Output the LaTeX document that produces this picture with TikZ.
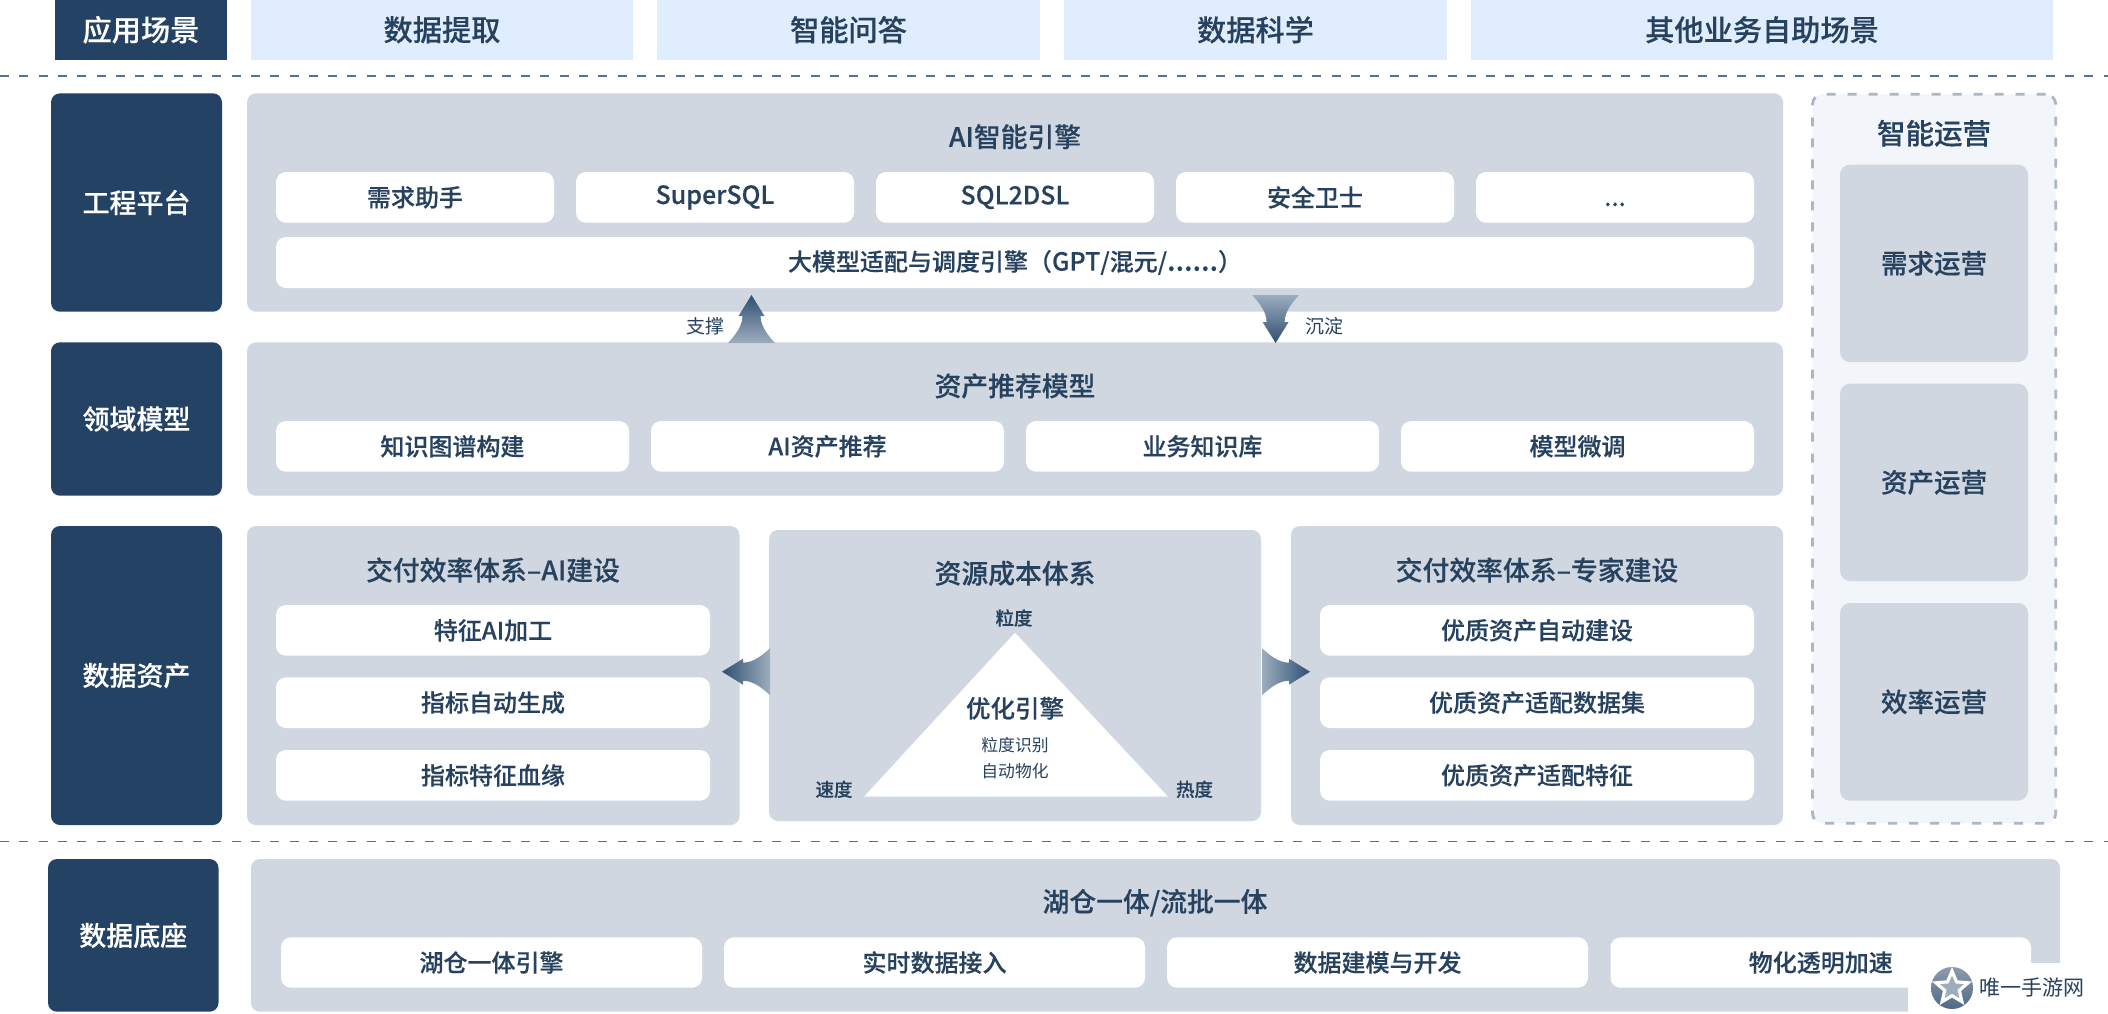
\documentclass[tikz,border=0pt]{standalone}
\usepackage{fontspec}
\usepackage{tikz}
\usetikzlibrary{calc,shapes.geometric}
\setmainfont{Noto Sans CJK SC}[BoldFont={Noto Sans CJK SC Medium},BoldFeatures={FakeBold=0.25}]
\definecolor{navy}{HTML}{234264}
\definecolor{panel}{HTML}{D0D7E0}
\definecolor{topblue}{HTML}{E0EDFE}
\definecolor{ink}{HTML}{27425F}
\definecolor{opsbg}{HTML}{F2F5F9}
\definecolor{opsline}{HTML}{AAB7C7}
\definecolor{rule}{HTML}{4F7298}
\definecolor{arrowdark}{HTML}{2F4F73}
\definecolor{arrowlight}{HTML}{9DADBE}
\newcommand{\lat}[1]{{\fontsize{25}{29}\selectfont #1}}
\tikzset{
  base/.style={inner sep=0pt,outer sep=0pt,align=center,text=ink},
  navybox/.style={base,fill=navy,rounded corners=9pt,text=white,font=\fontsize{27}{32}\selectfont\bfseries},
  panelbox/.style={base,fill=panel,rounded corners=9pt},
  whitebox/.style={base,fill=white,rounded corners=10pt,font=\fontsize{24}{29}\selectfont\bfseries},
  topbox/.style={base,fill=topblue,font=\fontsize{29.2}{34}\selectfont\bfseries},
  title/.style={base,font=\fontsize{26.8}{32}\selectfont\bfseries},
  opsbox/.style={base,fill=panel,rounded corners=10pt,font=\fontsize{26.5}{32}\selectfont\bfseries},
  small/.style={base,font=\fontsize{19}{22}\selectfont},
  smallb/.style={base,font=\fontsize{18.5}{22}\selectfont\bfseries},
  rulestyle/.style={draw=rule,line width=1.3pt,dash pattern=on 9pt off 10.3pt},
}
% name, x0, y0, x1, y1, style, text
\newcommand{\bx}[7]{\node[#6,minimum width={(#4-#2)*1pt},minimum height={(#5-#3)*1pt}] (#1) at ({(#2+#4)/2},{(#3+#5)/2}) {#7};}
\begin{document}
\begin{tikzpicture}[x=1pt,y=-1pt]
\useasboundingbox (0,0) rectangle (2108,1013);
\fill[white] (0,0) rectangle (2108,1013);

% application row
\bx{app}{55}{0}{227}{59.5}{navybox,rounded corners=0pt,font=\fontsize{29.2}{34}\selectfont\bfseries}{应用场景}
\bx{t1}{251}{0}{633}{59.5}{topbox}{数据提取}
\bx{t2}{657}{0}{1040}{59.5}{topbox}{智能问答}
\bx{t3}{1064}{0}{1447}{59.5}{topbox}{数据科学}
\bx{t4}{1471}{0}{2053}{59.5}{topbox}{其他业务自助场景}

\coordinate (ruleAl) at (0,76); \coordinate (ruleAr) at (2108,76);
\draw[rulestyle] (ruleAl) -- (ruleAr);

% engineering platform
\bx{eng}{51}{93.3}{222}{311.7}{navybox}{工程平台}
\bx{engP}{247}{93.3}{1783}{311.7}{panelbox}{}
\node[title] (engT) at (1015,136.7) {AI智能引擎};
\bx{e1}{276}{172}{554}{222.7}{whitebox}{需求助手}
\bx{e2}{576}{172}{854}{222.7}{whitebox}{\lat{SuperSQL}}
\bx{e3}{876}{172}{1154}{222.7}{whitebox}{\lat{SQL2DSL}}
\bx{e4}{1176}{172}{1454}{222.7}{whitebox}{安全卫士}
\bx{e5}{1476}{172}{1754}{222.7}{whitebox}{\vphantom{需}...}
\bx{e6}{276}{237}{1754}{288}{whitebox}{大模型适配与调度引擎（\lat{GPT}/混元/{\fontsize{28.5}{29}\selectfont ......}）}

% domain model
\bx{dom}{51}{342.3}{222}{495.7}{navybox}{领域模型}
\bx{domP}{247}{342.3}{1783}{495.7}{panelbox}{}
\node[title] (domT) at (1015,386) {资产推荐模型};
\bx{d1}{276}{421}{629}{471.7}{whitebox}{知识图谱构建}
\bx{d2}{651}{421}{1004}{471.7}{whitebox}{AI资产推荐}
\bx{d3}{1026}{421}{1379}{471.7}{whitebox}{业务知识库}
\bx{d4}{1401}{421}{1754}{471.7}{whitebox}{模型微调}

% support / settle arrows
\coordinate (upT) at (751.5,295);
\coordinate (dnT) at (1275.6,343);
\path[top color=arrowdark,bottom color=arrowlight] (upT) -- ++(13,21) -- ++(-4,0) .. controls +(0,11) and +(-5.5,-6) .. ++(14.5,27) -- ++(-47,0) .. controls +(5.5,-6) and +(0,11) .. ++(14.5,-27) -- ++(-4,0) -- cycle;
\path[top color=arrowlight,bottom color=arrowdark] (dnT) -- ++(13,-21) -- ++(-4,0) .. controls +(0,-11) and +(-5.5,6) .. ++(14.5,-27) -- ++(-47,0) .. controls +(5.5,6) and +(0,-11) .. ++(14.5,27) -- ++(-4,0) -- cycle;
\node[small] (sup) at (705,326) {支撑};
\node[small] (sed) at (1324,326) {沉淀};

% data assets
\bx{ast}{51}{526}{222}{825}{navybox}{数据资产}
\bx{pL}{247}{526}{739.5}{825}{panelbox}{}
\node[title] (pLT) at (493,570) {交付效率体系–AI建设};
\bx{l1}{276}{605}{710}{655.7}{whitebox}{特征AI加工}
\bx{l2}{276}{677.3}{710}{728}{whitebox}{指标自动生成}
\bx{l3}{276}{750}{710}{800.7}{whitebox}{指标特征血缘}

\bx{pM}{769}{530}{1261}{821}{panelbox}{}
\node[title] (pMT) at (1015,573.3) {资源成本体系};
\coordinate (triA) at (1015,632.7);
\coordinate (triB) at (864,796.7);
\coordinate (triC) at (1168,796.7);
\fill[white] (triA) -- (triB) -- (triC) -- cycle;
\node[smallb] (gA) at (1014,618) {粒度};
\node[smallb] (gB) at (834,789.3) {速度};
\node[smallb] (gC) at (1194.5,789.3) {热度};
\node[base,font=\fontsize{24.5}{29}\selectfont\bfseries] (opt) at (1015,708.3) {优化引擎};
\node[base,font=\fontsize{16.8}{20}\selectfont] (o1) at (1015,745) {粒度识别};
\node[base,font=\fontsize{16.8}{20}\selectfont] (o2) at (1015,771) {自动物化};

\bx{pR}{1291}{526}{1783}{825}{panelbox}{}
\node[title] (pRT) at (1537,570) {交付效率体系–专家建设};
\bx{r1}{1320}{605}{1754}{655.7}{whitebox}{优质资产自动建设}
\bx{r2}{1320}{677.3}{1754}{728}{whitebox}{优质资产适配数据集}
\bx{r3}{1320}{750}{1754}{800.7}{whitebox}{优质资产适配特征}

% side arrows
\coordinate (ltT) at (722,671.7);
\coordinate (rtT) at (1310,671.7);
\path[left color=arrowdark,right color=arrowlight] (ltT) -- ++(21,13) -- ++(0,-4) .. controls +(11,0) and +(-6,-5.5) .. ++(27,14.5) -- ++(0,-47) .. controls +(-6,5.5) and +(11,0) .. ++(-27,14.5) -- ++(0,-4) -- cycle;
\path[left color=arrowlight,right color=arrowdark] (rtT) -- ++(-21,13) -- ++(0,-4) .. controls +(-11,0) and +(6,-5.5) .. ++(-27,14.5) -- ++(0,-47) .. controls +(6,5.5) and +(-11,0) .. ++(27,14.5) -- ++(0,-4) -- cycle;

% intelligent operations
\bx{ops}{1812.5}{94.3}{2055.7}{823.3}{base,fill=opsbg,draw=opsline,line width=2.8pt,dash pattern=on 9pt off 12pt,rounded corners=10pt}{}
\node[base,font=\fontsize{28.5}{34}\selectfont\bfseries] (opsT) at (1934,133.3) {智能运营};
\bx{o1b}{1840}{164.7}{2028}{362}{opsbox}{需求运营}
\bx{o2b}{1840}{383.7}{2028}{581}{opsbox}{资产运营}
\bx{o3b}{1840}{603}{2028}{800.7}{opsbox}{效率运营}

\coordinate (ruleBl) at (0,841.7); \coordinate (ruleBr) at (2108,841.7);
\draw[rulestyle] (ruleBl) -- (ruleBr);

% data foundation
\bx{fnd}{48}{859}{218.5}{1011.7}{navybox}{数据底座}
\bx{fndP}{251}{859}{2060}{1011.7}{panelbox}{}
\node[title] (fndT) at (1155,902.7) {湖仓一体/流批一体};
\bx{f1}{281}{937.3}{702}{987.7}{whitebox}{湖仓一体引擎}
\bx{f2}{724}{937.3}{1145}{987.7}{whitebox}{实时数据接入}
\bx{f3}{1167}{937.3}{1588}{987.7}{whitebox}{数据建模与开发}
\bx{f4}{1610.5}{937.3}{2031}{987.7}{whitebox}{物化透明加速}

% watermark
\fill[white] (1908,962.7) rectangle (2108,1013);
\node[circle,top color=arrowlight!90!black,bottom color=arrowdark!85,minimum size=42pt,inner sep=0pt] (logo) at (1952,988) {};
\node[star,star points=5,star point ratio=2.2,fill=white,minimum size=42pt,inner sep=0pt] (logoS) at (logo) {};
\node[star,star points=5,star point ratio=2.2,fill=arrowlight,minimum size=25pt,inner sep=0pt] (logoI) at (logo) {};
\node[base,font=\fontsize{21}{25}\selectfont] (wm) at (2032,987.5) {唯一手游网};
\end{tikzpicture}
\end{document}
